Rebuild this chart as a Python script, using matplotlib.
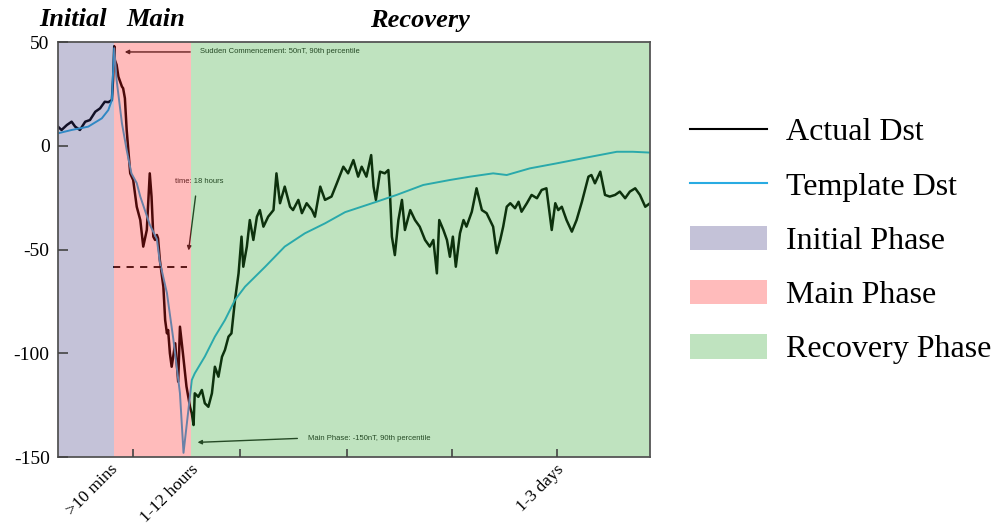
import matplotlib
matplotlib.use("Agg")
import matplotlib.pyplot as plt
from matplotlib.lines import Line2D
from matplotlib.patches import Patch

# Storm time axis (arbitrary units, 0-100 across the event)
actual_t = [0.0, 0.6, 1.5, 2.3, 2.9, 3.7, 4.6, 5.4, 6.3, 7.1, 7.9, 8.5, 9.1, 9.3, 9.5,
            9.6, 9.9, 10.2, 10.5, 10.8, 11.0, 11.3, 11.6, 12.2, 12.7, 13.3, 13.9, 14.4,
            15.0, 15.5, 15.8, 16.1, 16.4, 16.7, 16.9, 17.2, 17.8, 18.1, 18.4, 18.6, 18.9,
            19.2, 19.8, 20.3, 20.6, 21.1, 21.7, 22.3, 22.6, 22.9, 23.1, 23.7, 24.3, 24.8,
            25.4, 26.0, 26.5, 27.1, 27.7, 28.2, 28.8, 29.3, 29.9, 30.5, 31.0, 31.3, 31.9,
            32.4, 33.0, 33.6, 34.1, 34.7, 35.5, 36.4, 36.9, 37.5, 38.3, 39.2, 39.7, 40.6,
            41.2, 42.0, 42.9, 43.4, 44.3, 45.1, 46.2, 47.1, 48.2, 49.0, 49.9, 50.7, 51.3,
            52.1, 52.9, 53.3, 53.7, 54.4, 55.2, 55.8, 56.1, 56.4, 56.9, 57.5, 58.1, 58.6,
            59.5, 60.3, 61.1, 62.0, 62.8, 63.4, 64.0, 64.4, 65.1, 65.7, 66.2, 66.7, 67.2,
            67.9, 68.5, 69.0, 69.9, 70.7, 71.6, 72.4, 73.5, 74.1, 74.7, 75.2, 75.8, 76.4,
            77.2, 77.8, 78.3, 79.2, 80.0, 80.9, 81.7, 82.5, 83.4, 84.0, 84.5, 85.1, 85.9,
            86.8, 87.6, 88.5, 89.6, 90.1, 90.7, 91.6, 92.4, 93.2, 94.1, 94.9, 95.8, 96.6,
            97.5, 98.3, 99.2, 100.0]
actual_dst = [9.2, 7.6, 10.0, 11.6, 9.2, 7.6, 11.6, 12.4, 16.4, 18.0, 21.2, 21.0, 22.0, 31.7, 48.0,
              41.3, 39.0, 33.3, 30.9, 28.5, 27.7, 22.9, 7.6, -13.3, -16.5, -29.4, -35.8, -48.6,
              -40.6, -13.3, -24.5, -43.8, -45.4, -43.0, -44.6, -55.0, -68.0, -84.0, -90.4, -88.8, -100.0,
              -106.5, -95.2, -113.7, -87.2, -100.0, -116.0, -125.8, -129.0, -134.6, -119.3, -121.0, -117.7, -124.1,
              -125.8, -119.3, -106.5, -111.3, -101.7, -98.4, -92.0, -90.4, -74.3, -61.5, -43.8, -58.3, -48.6,
              -35.8, -45.4, -34.2, -31.0, -39.0, -34.2, -31.0, -13.3, -27.7, -19.7, -29.4, -31.0, -26.1,
              -32.5, -27.7, -31.0, -34.2, -19.7, -26.1, -24.5, -18.1, -10.1, -13.3, -6.9, -14.9, -10.1,
              -14.9, -4.5, -19.7, -26.1, -12.5, -13.3, -11.7, -24.5, -43.8, -52.7, -35.8, -26.1, -40.6,
              -31.0, -35.8, -39.0, -45.4, -48.6, -45.4, -61.5, -35.8, -40.6, -45.4, -53.5, -43.8, -58.3,
              -42.2, -35.8, -39.0, -31.8, -20.5, -31.0, -32.5, -39.0, -51.8, -45.4, -39.0, -29.4, -27.7,
              -30.1, -27.0, -31.8, -27.7, -23.7, -25.3, -21.3, -20.5, -40.6, -27.7, -31.0, -29.4, -35.8,
              -41.4, -35.8, -27.0, -14.9, -14.1, -18.1, -12.5, -23.7, -24.5, -23.7, -22.1, -25.3, -22.1,
              -20.5, -23.7, -29.4, -27.7]

template_t = [0.0, 2.3, 5.1, 7.4, 8.5, 9.1, 9.3, 9.5, 9.9, 10.8, 11.6, 12.4, 13.3, 13.9,
              15.5, 16.7, 17.2, 18.4, 19.5, 20.6, 21.2, 22.0, 22.6, 23.1, 24.8, 26.5, 28.2,
              29.9, 31.6, 35.0, 38.3, 41.7, 45.1, 48.5, 53.8, 57.2, 61.7, 66.2, 69.6, 73.5,
              75.8, 79.7, 84.2, 88.7, 94.4, 97.1, 100.0]
template_dst = [6.0, 7.6, 9.2, 13.2, 17.2, 22.0, 35.0, 47.0, 31.7, 10.8, -2.0, -13.3, -18.0, -24.5,
                -38.0, -45.0, -56.0, -71.0, -93.6, -119.3, -148.0, -128.0, -112.9, -109.7, -101.6, -92.0, -84.0,
                -74.3, -67.9, -58.3, -48.6, -42.2, -37.4, -32.0, -27.0, -23.7, -18.9, -16.5, -14.9, -13.3,
                -14.1, -10.9, -8.5, -6.0, -2.9, -2.9, -3.3]

phase_names = ["Initial Phase", "Main Phase", "Recovery Phase"]
phase_bounds = [0.0, 9.5, 22.5, 100.0]
phase_titles = ["Initial", "Main", "Recovery"]

y_ticks = [-150, -100, -50, 0, 50]
x_label_pos = [8.8, 22.3, 84.0]
x_labels = [">10 mins", "1-12 hours", "1-3 days"]
x_minor_ticks = [12.7, 30.7, 48.8, 66.6, 84.3]

sc_level = 45.2          # sudden commencement marker
main_min_level = -143.0  # main phase minimum marker
half_level = -58.3       # dashed reference level in main phase

serif = ["Liberation Serif", "DejaVu Serif"]
sans = ["Liberation Sans", "DejaVu Sans"]

fig = plt.figure(figsize=(9.94, 5.25), dpi=100)
ax = fig.add_axes([58 / 994, 68 / 525, 592 / 994, 415 / 525])

ax.plot(actual_t, actual_dst, color="black", lw=1.8, zorder=1)
ax.plot(template_t, template_dst, color="#29abe2", lw=1.4, zorder=1)

ax.hlines(half_level, 9.3, 21.8, colors="black", linestyles=(0, (4, 3.5)), lw=1.3, zorder=1)

ann_kw = dict(fontsize=5.5, family=sans, color="#222222", zorder=1)
arrow_kw = dict(arrowstyle="-|>", color="#222222", lw=1.0, mutation_scale=6)
ax.annotate("", xy=(10.8, sc_level), xytext=(22.8, sc_level), arrowprops=arrow_kw, zorder=1)
ax.text(24.0, sc_level, "Sudden Commencement: 50nT, 90th percentile", va="center", ha="left", **ann_kw)
ax.annotate("", xy=(22.0, -51.8), xytext=(23.3, -22.9), arrowprops=arrow_kw, zorder=1)
ax.text(23.8, -17.0, "time: 18 hours", va="center", ha="center", **ann_kw)
ax.annotate("", xy=(23.1, main_min_level), xytext=(40.9, -141.0), arrowprops=arrow_kw, zorder=1)
ax.text(42.2, -141.0, "Main Phase: -150nT, 90th percentile", va="center", ha="left", **ann_kw)

phase_colors = ["#3e3780", "#ff2020", "#2da52d"]
for i, c in enumerate(phase_colors):
    ax.axvspan(phase_bounds[i], phase_bounds[i + 1], color=c, alpha=0.3, lw=0, zorder=1.2)

ax.set_xlim(0, 100)
ax.set_ylim(-150, 50)
ax.set_axisbelow(False)

ax.set_yticks(y_ticks)
ax.set_yticklabels([str(v) for v in y_ticks], family=serif, fontsize=14)
ax.tick_params(axis="y", direction="in", length=7, width=1.2, color="#444444", pad=6)

ax.set_xticks(x_label_pos)
ax.set_xticklabels(x_labels, family=serif, fontsize=12.5, rotation=45, ha="right",
                   rotation_mode="anchor")
ax.set_xticks(x_minor_ticks, minor=True)
ax.tick_params(axis="x", which="major", length=0, pad=3)
ax.tick_params(axis="x", which="minor", direction="in", length=6, width=1.2, color="#444444")

for s in ax.spines.values():
    s.set_color("#555555")
    s.set_linewidth(1.3)

title_x = [73.5, 156, 420]
for name, xp in zip(phase_titles, title_x):
    fig.text(xp / 994, 1 - 20 / 525, name, ha="center", va="center", family=serif,
             fontsize=19, fontweight="bold", fontstyle="italic")

handles = [Line2D([], [], color="black", lw=1.5),
           Line2D([], [], color="#29abe2", lw=1.5)]
handles += [Patch(facecolor=c, alpha=0.3, lw=0) for c in phase_colors]
labels = ["Actual Dst", "Template Dst"] + phase_names
fig.legend(handles, labels, loc="upper left", bbox_to_anchor=(690 / 994, 1 - 117 / 525),
           frameon=False, prop={"family": serif, "size": 23}, handlelength=2.4,
           handleheight=0.8, handletextpad=0.6, labelspacing=0.75, borderpad=0,
           borderaxespad=0)

fig.savefig("out.png", dpi=100)
